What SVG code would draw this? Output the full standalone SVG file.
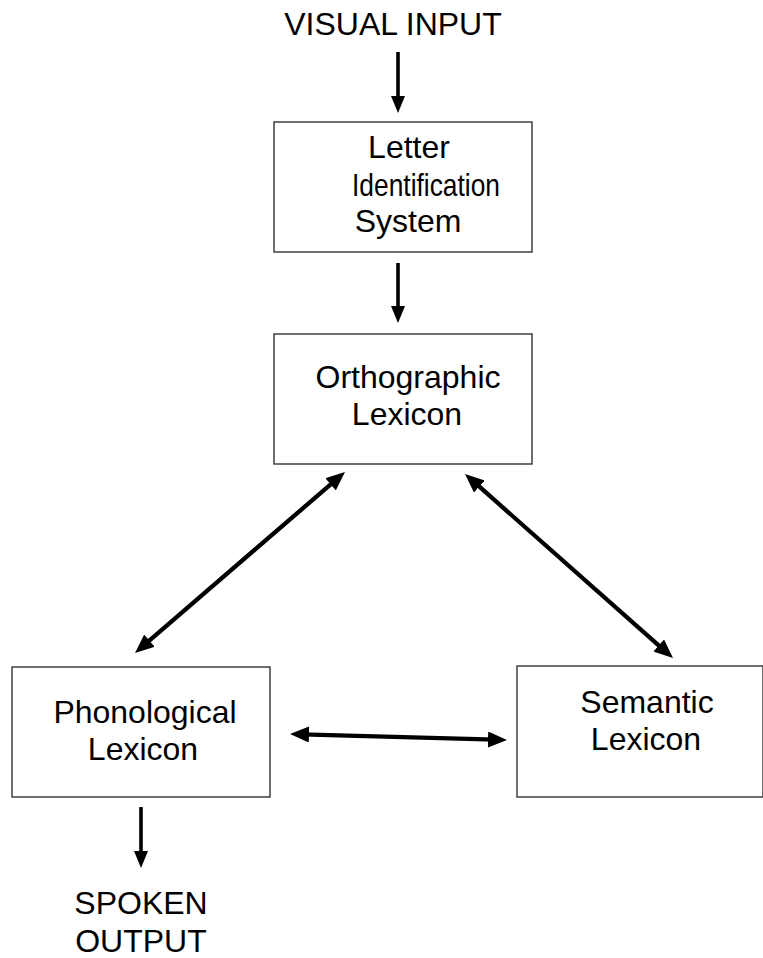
<svg xmlns="http://www.w3.org/2000/svg" width="763" height="958" viewBox="0 0 763 958">
<style>
  .box { fill: #ffffff; stroke: #333333; stroke-width: 1.4; }
  .lbl { font-family: "Liberation Sans", Arial, sans-serif; font-size: 32px; fill: #000000; text-anchor: middle; }
  .conn { stroke: #000000; stroke-width: 3.6; fill: none; }
  .diag { stroke-width: 4.3; }
</style>
<defs>
  <marker id="ah" viewBox="0 0 17 14" refX="6" refY="7" markerWidth="17" markerHeight="14" markerUnits="userSpaceOnUse" orient="auto-start-reverse">
    <path d="M0,0 L17,7 L0,14 z" fill="#000000"/>
  </marker>
  <marker id="ah2" viewBox="0 0 19 16" refX="7" refY="8" markerWidth="19" markerHeight="16" markerUnits="userSpaceOnUse" orient="auto-start-reverse">
    <path d="M0,0 L19,8 L0,16 z" fill="#000000"/>
  </marker>
</defs>
<rect width="763" height="958" fill="#ffffff"/>

<g id="visual-input">
  <text class="lbl" x="393" y="35">VISUAL INPUT</text>
</g>

<g id="letter-identification">
  <rect class="box" x="274" y="122" width="258" height="130"/>
  <text class="lbl" x="409" y="158">Letter</text>
  <text class="lbl" x="426" y="196" textLength="148" lengthAdjust="spacingAndGlyphs">Identification</text>
  <text class="lbl" x="408" y="232">System</text>
</g>

<g id="orthographic-lexicon">
  <rect class="box" x="274" y="334" width="258" height="130"/>
  <text class="lbl" x="408" y="388">Orthographic</text>
  <text class="lbl" x="407" y="425">Lexicon</text>
</g>

<g id="phonological-lexicon">
  <rect class="box" x="12" y="667" width="258" height="130"/>
  <text class="lbl" x="145" y="723">Phonological</text>
  <text class="lbl" x="143" y="760">Lexicon</text>
</g>

<g id="semantic-lexicon">
  <rect class="box" x="517" y="666" width="246" height="131"/>
  <text class="lbl" x="647" y="713">Semantic</text>
  <text class="lbl" x="646" y="750">Lexicon</text>
</g>

<g id="spoken-output">
  <text class="lbl" x="141" y="914">SPOKEN</text>
  <text class="lbl" x="141" y="952">OUTPUT</text>
</g>

<g id="connectors">
  <line class="conn" x1="398" y1="52" x2="398" y2="102" marker-end="url(#ah)"/>
  <line class="conn" x1="398" y1="263" x2="398" y2="312" marker-end="url(#ah)"/>
  <line class="conn" x1="141" y1="807" x2="141" y2="857" marker-end="url(#ah)"/>
  <line class="conn diag" x1="335.9" y1="479.8" x2="144.1" y2="645.2" marker-start="url(#ah2)" marker-end="url(#ah2)"/>
  <line class="conn diag" x1="474" y1="481.9" x2="664" y2="650.1" marker-start="url(#ah2)" marker-end="url(#ah2)"/>
  <line class="conn diag" x1="302" y1="734.3" x2="495" y2="739.7" marker-start="url(#ah2)" marker-end="url(#ah2)"/>
</g>
</svg>
